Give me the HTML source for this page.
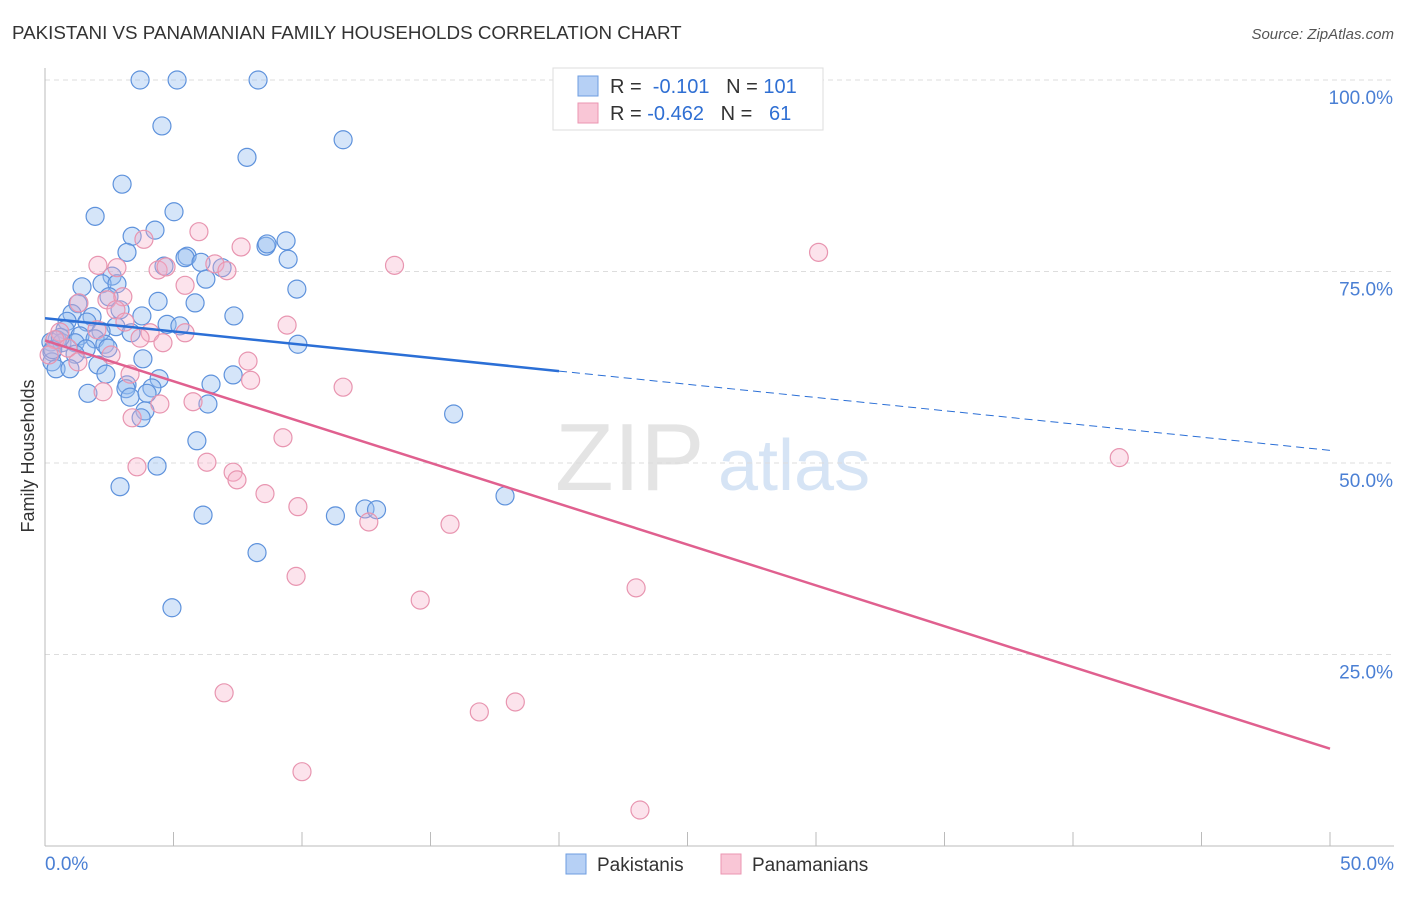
<!DOCTYPE html>
<html><head><meta charset="utf-8"><style>
body{margin:0;background:#fff;font-family:"Liberation Sans",sans-serif;}
svg text{font-family:"Liberation Sans",sans-serif;}
</style></head><body>
<svg id="chart" width="1406" height="892" viewBox="0 0 1406 892" xmlns="http://www.w3.org/2000/svg">
<text x="12" y="39" font-size="18.8" fill="#333">PAKISTANI VS PANAMANIAN FAMILY HOUSEHOLDS CORRELATION CHART</text>
<text x="1394" y="39" font-size="15" fill="#555" font-style="italic" text-anchor="end">Source: ZipAtlas.com</text>
<text x="555" y="490" font-size="96" fill="#e4e4e4" font-family="Liberation Serif">ZIP</text>
<text x="718" y="490" font-size="72" fill="#d6e4f5">atlas</text>
<g id="grid"></g>
<g id="axes"></g>
<g id="pts"></g>
<g id="trends"></g>
<text x="34" y="456" font-size="18" fill="#333" text-anchor="middle" transform="rotate(-90 34 456)">Family Households</text>
<g>
<rect x="553" y="68" width="270" height="62" fill="#fff" stroke="#ddd"/>
<rect x="578" y="76" width="20" height="20" fill="#b6d0f5" stroke="#6e9de0"/>
<rect x="578" y="103" width="20" height="20" fill="#f9c6d6" stroke="#eb96b2"/>
<text x="610" y="93" font-size="20" fill="#333">R = <tspan fill="#2f6fd3">&#160;-0.101</tspan>&#160;&#160;&#160;N = <tspan fill="#2f6fd3">101</tspan></text>
<text x="610" y="120" font-size="20" fill="#333">R = <tspan fill="#2f6fd3">-0.462</tspan>&#160;&#160;&#160;N = <tspan fill="#2f6fd3">&#160;&#160;61</tspan></text>
</g>
<g>
<rect x="566" y="854" width="20" height="20" fill="#b6d0f5" stroke="#6e9de0"/>
<text x="597" y="871" font-size="19" fill="#333">Pakistanis</text>
<rect x="721" y="854" width="20" height="20" fill="#f9c6d6" stroke="#eb96b2"/>
<text x="752" y="871" font-size="19" fill="#333">Panamanians</text>
</g>
</svg>
<script>
const yTicks=[25,50,75,100];
const yTickLabels=["25.0%","50.0%","75.0%","100.0%"];
const xTickLabels=["0.0%","50.0%"];
const pakX=[3.70,5.14,8.29,4.55,11.6,7.86,3.0,1.95,5.02,4.28,3.39,3.19,9.38,8.6,8.64,5.53,5.45,6.07,9.46,4.63,6.89,6.26,2.61,2.22,2.8,1.44,9.8,2.49,1.28,4.4,5.84,2.92,1.05,3.77,7.35,1.83,0.86,1.63,4.75,5.25,2.76,0.78,2.18,3.35,1.36,0.47,1.95,0.23,0.66,1.17,2.33,9.84,1.6,2.45,0.27,1.17,3.81,2.06,0.27,0.43,0.97,2.37,7.32,4.44,6.46,3.19,3.15,4.16,1.67,3.31,3.97,6.34,3.89,3.74,15.9,5.91,4.36,17.9,2.92,12.45,12.9,6.15,11.3,8.25,4.94,0.3,0.6];
const pakY=[100,100,100,94.0,92.2,89.9,86.4,82.2,82.8,80.4,79.6,77.5,79.0,78.3,78.6,77.0,76.8,76.2,76.6,75.7,75.5,74.0,74.4,73.4,73.4,73.0,72.7,71.7,70.8,71.1,70.9,70.0,69.5,69.2,69.2,69.1,68.5,68.4,68.1,67.9,67.8,67.4,67.2,67.0,66.6,66.1,66.2,65.8,65.7,65.7,65.5,65.5,64.9,65.0,64.5,64.2,63.6,62.8,63.2,62.3,62.3,61.6,61.5,61.0,60.3,60.2,59.7,59.8,59.1,58.6,59.1,57.7,56.8,55.9,56.4,52.9,49.6,45.7,46.9,44.0,43.9,43.2,43.1,38.3,31.1,64.8,66.4];
const panX=[30.1,3.85,5.99,7.63,2.06,2.8,4.4,4.71,6.61,7.08,13.6,5.45,2.41,3.03,1.32,2.76,9.42,0.58,2.02,3.11,4.09,5.45,3.7,4.59,0.39,0.89,2.57,0.16,1.28,7.9,8.0,3.31,11.6,2.26,4.47,5.76,3.39,9.26,3.58,6.3,7.32,7.47,8.56,9.84,12.6,15.76,41.8,9.77,14.6,23.0,6.97,18.3,16.9,10.0,23.15];
const panY=[77.5,79.2,80.2,78.2,75.8,75.5,75.2,75.6,76.0,75.1,75.8,73.2,71.3,71.7,70.9,70.0,68.0,67.1,67.4,68.4,67.0,67.0,66.3,65.7,66.1,65.0,64.1,64.1,63.2,63.3,60.8,61.6,59.9,59.3,57.7,58.0,55.9,53.3,49.5,50.1,48.8,47.8,46.0,44.3,42.3,42.0,50.7,35.2,32.1,33.7,20.0,18.8,17.5,9.7,4.7];
const pakTrend=[68.9,-0.345];
const panTrend=[66.0,-1.066];
const NS="http://www.w3.org/2000/svg";
const X=v=>45+v/50*1285, Y=v=>846-v/100*766;
function mk(tag,attrs,parent){const e=document.createElementNS(NS,tag);for(const k in attrs)e.setAttribute(k,attrs[k]);parent.appendChild(e);return e;}
const grid=document.getElementById('grid'),axes=document.getElementById('axes'),pts=document.getElementById('pts'),tr=document.getElementById('trends');
yTicks.forEach((t,i)=>{
  const l=mk('line',{x1:45,x2:1394,y1:Y(t),y2:Y(t),stroke:'#ddd','stroke-dasharray':'5,4'},grid);
  
  
  const tx=mk('text',{x:1393,y:Y(t)+24,'font-size':19,fill:'#4a7fd4','text-anchor':'end'},axes);
  tx.textContent=yTickLabels[i];
  
  
});
mk('line',{x1:45,x2:45,y1:68,y2:846,stroke:'#bbb'},axes);
mk('line',{x1:45,x2:1394,y1:846,y2:846,stroke:'#bbb'},axes);
for(let i=0;i<=10;i++){const x=X(i*5);mk('line',{x1:x,x2:x,y1:832,y2:846,stroke:'#bbb'},axes);}
const xl0=mk('text',{x:45,y:870,'font-size':19,fill:'#4a7fd4'},axes);xl0.textContent=xTickLabels[0];


const xl1=mk('text',{x:1394,y:870,'font-size':19,fill:'#4a7fd4','text-anchor':'end'},axes);xl1.textContent=xTickLabels[1];


pakX.forEach((v,i)=>{const c=mk('circle',{cx:X(v),cy:Y(pakY[i]),r:9,fill:'rgba(150,190,240,0.4)',stroke:'#5e92dc','stroke-width':1.2},pts);
  
  });
panX.forEach((v,i)=>{const c=mk('circle',{cx:X(v),cy:Y(panY[i]),r:9,fill:'rgba(245,175,200,0.35)',stroke:'#e895b0','stroke-width':1.2},pts);
  
  });
const f=(t,x)=>t[0]+t[1]*x;
const b1=mk('line',{x1:X(0),y1:Y(f(pakTrend,0)),x2:X(20),y2:Y(f(pakTrend,20)),stroke:'#2b6fd6','stroke-width':2.5},tr);


const b2=mk('line',{x1:X(20),y1:Y(f(pakTrend,20)),x2:X(50),y2:Y(f(pakTrend,50)),stroke:'#2b6fd6','stroke-width':1,'stroke-dasharray':'8,5'},tr);


const p1=mk('line',{x1:X(0),y1:Y(f(panTrend,0)),x2:X(50),y2:Y(f(panTrend,50)),stroke:'#e0608f','stroke-width':2.5},tr);


</script>
</body></html>
